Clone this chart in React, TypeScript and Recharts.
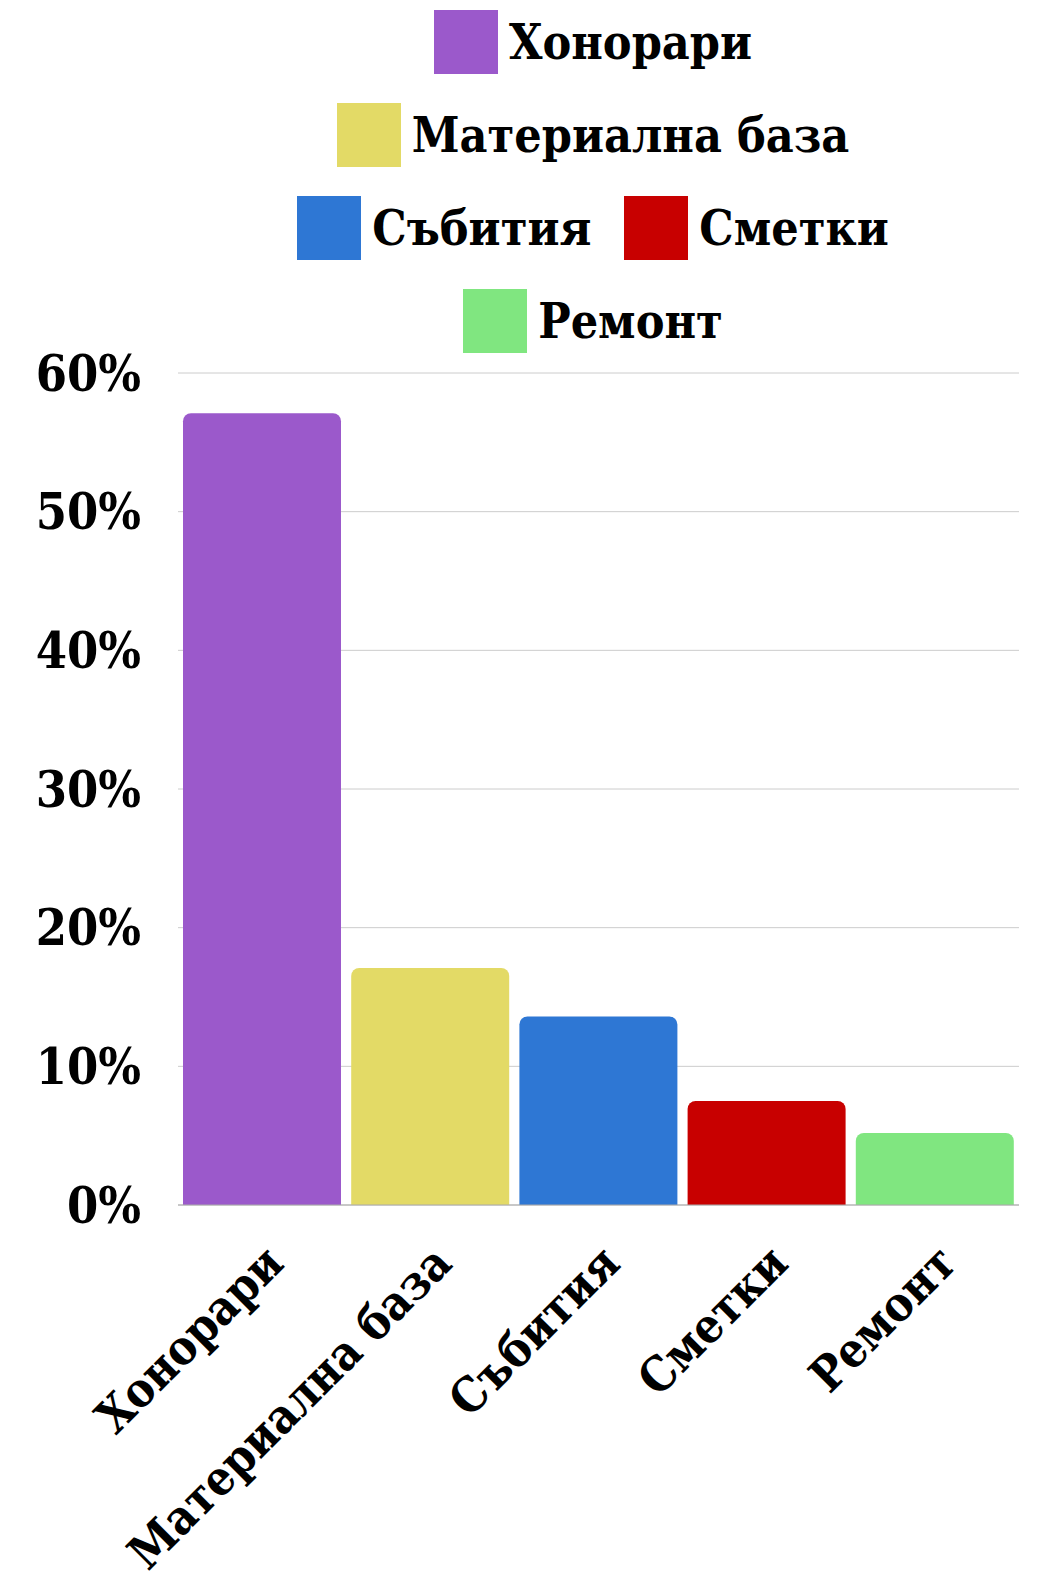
import React from 'react';
import { BarChart, Bar, XAxis, YAxis, CartesianGrid, Legend, Cell } from 'recharts';

const categories = ['Хонорари', 'Материална база', 'Събития', 'Сметки', 'Ремонт'];
const values = [57.1, 17.1, 13.6, 7.5, 5.2];
const colors = ['#9b59cb', '#e3da66', '#2e77d4', '#c80000', '#80e680'];
const yTicks = [0, 10, 20, 30, 40, 50, 60];

const FONT = "'DejaVu Serif Condensed', 'DejaVu Serif', serif";

const data = categories.map((name, i) => ({ name, value: values[i], color: colors[i] }));

const renderLegend = () => (
  <div style={{ width: 1038, height: 363, position: 'relative' }}>
    <div
      style={{
        position: 'absolute',
        left: 593 - 370,
        top: 10,
        width: 740,
        display: 'flex',
        flexWrap: 'wrap',
        justifyContent: 'center',
        rowGap: 29,
        columnGap: 33,
      }}
    >
      {data.map((d) => (
        <div key={d.name} style={{ display: 'flex', alignItems: 'center', height: 64 }}>
          <div style={{ width: 64, height: 64, background: d.color, marginRight: 11 }} />
          <span
            style={{
              fontFamily: FONT,
              fontWeight: 'bold',
              fontSize: 48,
              color: '#000',
              whiteSpace: 'nowrap',
              lineHeight: '64px',
            }}
          >
            {d.name}
          </span>
        </div>
      ))}
    </div>
  </div>
);

export default function App() {
  return (
    <div style={{ position: 'absolute', left: 0, top: 0 }}>
      <BarChart
        width={1038}
        height={1581}
        data={data}
        margin={{ top: 10, right: 19, bottom: 0, left: 0 }}
        barCategoryGap={5}
      >
        <CartesianGrid vertical={false} stroke="#cccccc" />
        <XAxis
          dataKey="name"
          height={376}
          interval={0}
          angle={-45}
          textAnchor="end"
          tickLine={false}
          axisLine={{ stroke: '#aaaaaa' }}
          tickMargin={31}
          tick={{ fontSize: 47.5, fontWeight: 'bold', fill: '#000', fontFamily: FONT }}
        />
        <YAxis
          width={178}
          domain={[0, 60]}
          ticks={yTicks}
          tickFormatter={(v) => `${v}%`}
          axisLine={false}
          tickLine={false}
          tickMargin={31}
          tick={{ fontSize: 50, fontWeight: 'bold', fill: '#000', fontFamily: FONT }}
        />
        <Legend
          verticalAlign="top"
          content={renderLegend}
          wrapperStyle={{ top: 0, left: 0, width: 1038, height: 363 }}
        />
        <Bar dataKey="value" radius={[8, 8, 0, 0]} isAnimationActive={false}>
          {data.map((d) => (
            <Cell key={d.name} fill={d.color} />
          ))}
        </Bar>
      </BarChart>
    </div>
  );
}
